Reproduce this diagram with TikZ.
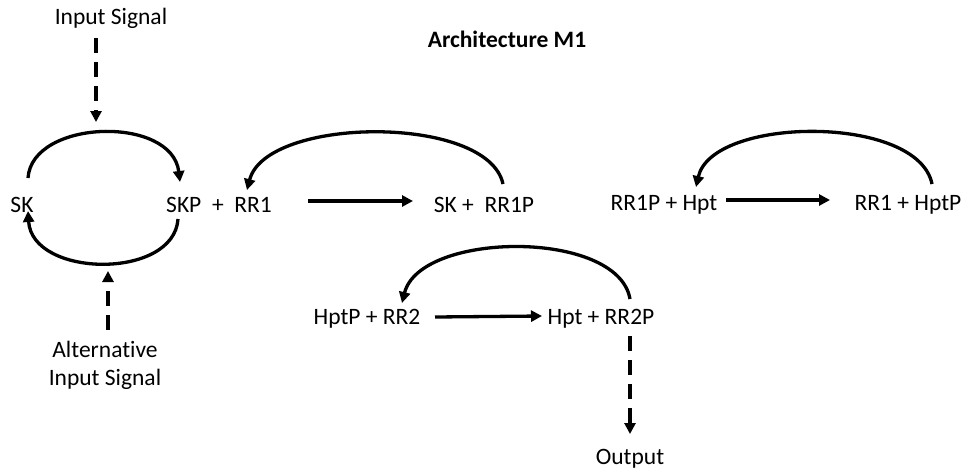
\documentclass[tikz,border=0pt]{standalone}
\usepackage{fontspec}
\setmainfont[Ligatures=CommonOff]{Carlito}
\usetikzlibrary{arrows.meta}
\begin{document}
\begin{tikzpicture}[x=1pt,y=-1pt,
  lbl/.style={inner sep=0pt, font=\fontsize{23.5}{28}\selectfont},
  conn/.style={line width=3.3pt, -{Triangle[length=11pt,width=11pt]}},
  dconn/.style={line width=3.3pt, dash pattern=on 15pt off 9pt, -{Triangle[length=11pt,width=11pt]}}]
\useasboundingbox (0,0) rectangle (969,475);
% texts
\node[lbl] (in) at (111,18) {Input Signal};
\node[lbl,font=\fontsize{23.5}{28}\selectfont\bfseries] (title) at (507,39) {Architecture M1};
\node[lbl] (sk) at (22,205) {SK};
\node[lbl] (skp) at (219,205) {SKP\ \ +\ \ RR1};
\node[lbl] (skrr) at (484,205) {SK +\ \ RR1P};
\node[lbl] (rr1p) at (664,205) {RR1P + Hpt};
\node[lbl] (rr1) at (908,205) {RR1 + HptP};
\node[lbl] (hptp) at (367,319) {HptP + RR2};
\node[lbl] (hpt) at (601,319) {Hpt + RR2P};
\node[lbl, align=center] (alt) at (105,365) {Alternative\\Input Signal};
\node[lbl] (out) at (630,459) {Output};
% endpoints
\coordinate (a1) at (96,38);   \coordinate (a2) at (96,122);
\coordinate (b1) at (108,330); \coordinate (b2) at (108,271);
\coordinate (c1) at (630,336); \coordinate (c2) at (630,434);
% SK cycle
\draw[conn] (28,178) .. controls (32,119) and (172,115) .. (180,182);
\draw[conn] (178,219) .. controls (174,280) and (32,278) .. (28,211);
\draw[dconn] (a1) -- (a2);
\draw[dconn] (b1) -- (b2);
% reactions
\draw[conn] (308,201) -- (413,201);
\draw[conn] (503,184) .. controls (488,114) and (266,116) .. (247,190);
\draw[conn] (726,200) -- (830,200);
\draw[conn] (932,184) .. controls (918,114) and (712,116) .. (696,187);
\draw[conn] (435,317) -- (542,316);
\draw[conn] (630,299) .. controls (618,229) and (420,231) .. (402,303);
\draw[dconn] (c1) -- (c2);
\end{tikzpicture}
\end{document}
